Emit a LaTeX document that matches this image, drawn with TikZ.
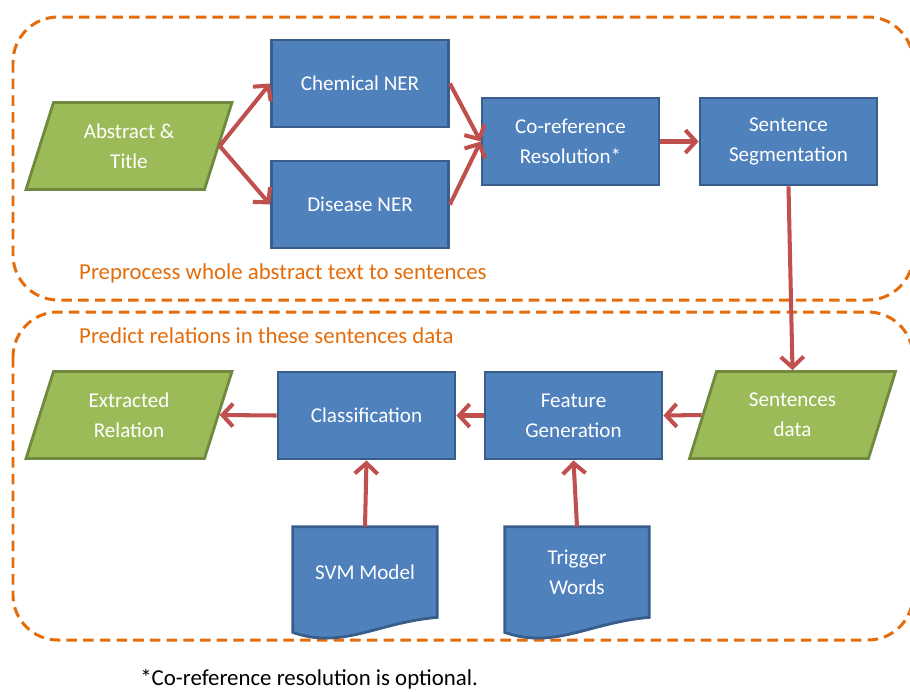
\documentclass[tikz,border=0pt]{standalone}
\usepackage{fontspec}
\setmainfont{Carlito}
\usetikzlibrary{shapes.geometric,arrows.meta}
\definecolor{boxblue}{HTML}{4F81BD}
\definecolor{boxedge}{HTML}{385D8A}
\definecolor{iogreen}{HTML}{9BBB59}
\definecolor{ioedge}{HTML}{71893F}
\definecolor{flowred}{HTML}{C0504D}
\definecolor{grouporange}{HTML}{E46C0A}

\tikzset{
  boxtext/.style={text=white, align=center, font=\fontsize{12}{17}\selectfont},
  proc/.style={boxtext, draw=boxedge, fill=boxblue, line width=1.6pt,
    minimum width=3.54cm, minimum height=1.74cm},
  io/.style={boxtext, trapezium, trapezium left angle=64, trapezium right angle=116,
    trapezium stretches body, draw=ioedge, fill=iogreen, line width=1.6pt,
    minimum width=4.12cm, minimum height=1.74cm},
  docbase/.style={boxtext, minimum width=2.88cm, minimum height=1.8cm},
  docline/.style={draw=boxedge, fill=boxblue, line width=1.6pt},
  flow/.style={draw=flowred, line width=2.3pt, -{Straight Barb[length=6pt,width=13pt]}},
  group/.style={draw=grouporange, line width=1.7pt, dash pattern=on 6pt off 3.5pt, rounded corners=0.9cm},
  grouplabel/.style={text=grouporange, anchor=west, font=\fontsize{13}{15}\selectfont}
}

\begin{document}
\begin{tikzpicture}[x=0.02cm, y=-0.02cm]
  \useasboundingbox (0,0) rectangle (910,691);

  % Dashed groups
  \draw[group] (13,17) rectangle (913,300);
  \draw[group] (13,312) rectangle (913,640);
  \node[grouplabel] (prelabel) at (73,273) {Preprocess whole abstract text to sentences};
  \node[grouplabel] (predlabel) at (73,336) {Predict relations in these sentences data};

  % Preprocessing
  \node[io] (abst) at (129,146) {Abstract \&\\Title};
  \node[proc] (chem) at (360,83.5) {Chemical NER};
  \node[proc] (dis) at (360,204.5) {Disease NER};
  \node[proc] (coref) at (570.5,141.5) {Co-reference\\Resolution*};
  \node[proc] (seg) at (788.5,141.5) {Sentence\\Segmentation};

  % Prediction
  \node[io] (sent) at (792.5,415) {Sentences\\data};
  \node[proc] (feat) at (573.5,415.5) {Feature\\Generation};
  \node[proc] (cls) at (366.5,415.5) {Classification};
  \node[io] (extr) at (129,415) {Extracted\\Relation};

  % Documents
  \node[docbase] (svm) at (365,572) {};
  \node[docbase] (trig) at (577,572) {};
  \foreach \d in {svm,trig} {
    \draw[docline] (\d.south east) -- (\d.north east) -- (\d.north west)
      -- ([yshift=-0.3cm]\d.south west)
      .. controls +(1cm,-0.35cm) and +(-1.2cm,-0.1cm) .. (\d.south east) -- cycle;
  }
  \node[boxtext] at (svm) {SVM Model};
  \node[boxtext] at (trig) {Trigger\\Words};

  % Arrows
  \draw[flow] (abst.east) -- (chem.west);
  \draw[flow] (abst.east) -- (dis.west);
  \draw[flow] (chem.east) -- (coref.west);
  \draw[flow] (dis.east) -- (coref.west);
  \draw[flow] (coref.east) -- (seg.west);
  \draw[flow] (seg.south) -- (sent.north);
  \draw[flow] (sent.west) -- (feat.east);
  \draw[flow] (feat.west) -- (cls.east);
  \draw[flow] (cls.west) -- (extr.east);
  \draw[flow] (svm.north) -- (cls.south);
  \draw[flow] (trig.north) -- (feat.south);

  % Footnote
  \node[anchor=base west, inner sep=0pt, font=\fontsize{13}{15}\selectfont] (foot) at (140,685)
    {*Co-reference resolution is optional.};
\end{tikzpicture}
\end{document}
